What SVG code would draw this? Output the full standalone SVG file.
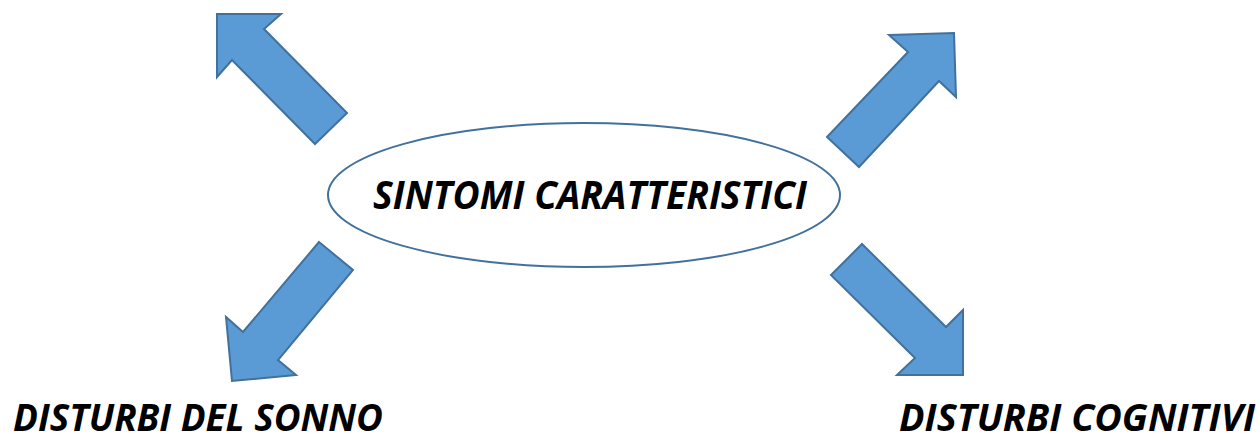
<svg xmlns="http://www.w3.org/2000/svg" width="1260" height="441" viewBox="0 0 1260 441">
  <style>
    .arrow { fill: #5B9BD5; stroke: #41719C; stroke-width: 2; stroke-linejoin: miter; }
    .label { font-family: "Open Sans", "Liberation Sans", sans-serif; font-weight: bold; font-style: italic; font-size: 40px; fill: #000; }
    .bottom { font-size: 38px; }
  </style>
  <rect width="1260" height="441" fill="#ffffff"/>
  <g id="connectors">
    <polygon id="arrow-nw" class="arrow" points="217,14 281,14 264,29 347,113 315,144 232,60 217,77"/>
    <polygon id="arrow-ne" class="arrow" points="889,35 954,33 956,97 939,81 859,167 827,137 908,52"/>
    <polygon id="arrow-sw" class="arrow" points="319,242 353,270 278,360 296,375 232,381 226,317 243,332"/>
    <polygon id="arrow-se" class="arrow" points="862,244 946,327 963,310 963,375 897,375 915,358 831,275"/>
  </g>
  <g id="node-center">
    <ellipse cx="584" cy="195" rx="256" ry="72" fill="#ffffff" stroke="#41719C" stroke-width="2"/>
    <text class="label" x="373" y="209" textLength="434" lengthAdjust="spacingAndGlyphs">SINTOMI CARATTERISTICI</text>
  </g>
  <g id="node-sonno">
    <text class="label bottom" x="13" y="431" textLength="370" lengthAdjust="spacingAndGlyphs">DISTURBI DEL SONNO</text>
  </g>
  <g id="node-cognitivi">
    <text class="label bottom" x="899" y="431" textLength="356" lengthAdjust="spacingAndGlyphs">DISTURBI COGNITIVI</text>
  </g>
</svg>
